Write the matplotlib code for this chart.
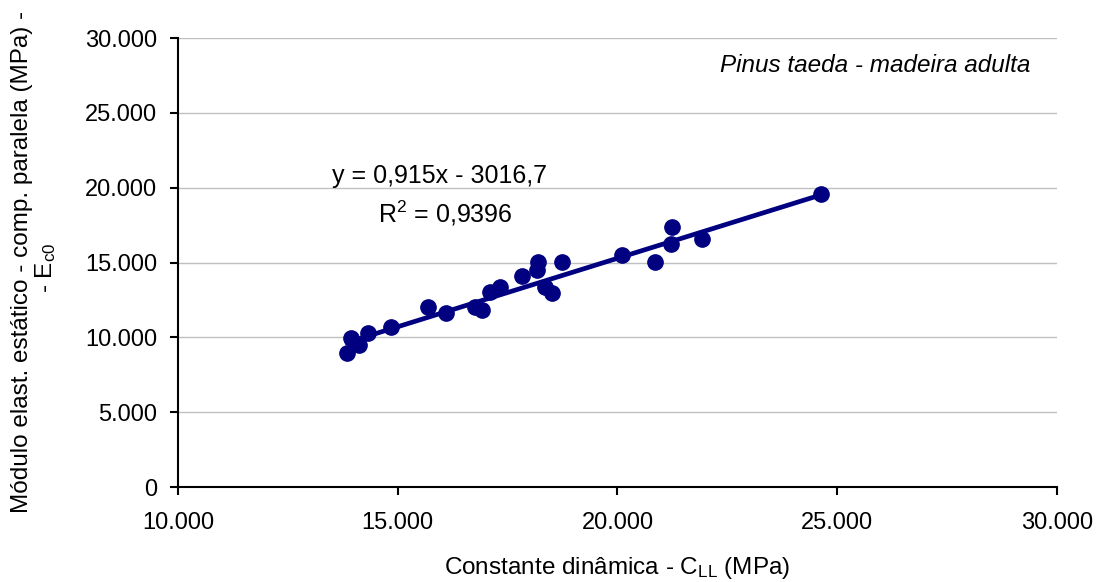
import matplotlib
matplotlib.use("Agg")
import matplotlib.pyplot as plt
from matplotlib.ticker import FuncFormatter
import numpy as np

plt.rcParams['font.family'] = ['Liberation Sans', 'DejaVu Sans']
plt.rcParams['mathtext.fontset'] = 'custom'
plt.rcParams['mathtext.rm'] = 'Liberation Sans'
plt.rcParams['mathtext.it'] = 'Liberation Sans:italic'

c_ll = [13930, 14125, 13850, 14330, 14846, 15695, 16091, 16758, 16910, 17099,
        17326, 17820, 18162, 18198, 18350, 18516, 18730, 20095, 20853, 21233,
        21217, 21916, 24623]
e_c0 = [9940, 9490, 8970, 10310, 10710, 12007, 11606, 12007, 11826, 13049,
        13343, 14118, 14499, 15053, 13396, 12982, 15013, 15501, 15053, 17352,
        16236, 16570, 19557]
slope = 0.915
intercept = -3016.7
eq_text = "y = 0,915x - 3016,7"
r2_text = "R$^2$ = 0,9396"
species = "Pinus taeda - madeira adulta"
x_ticks = [10000, 15000, 20000, 25000, 30000]
y_ticks = [0, 5000, 10000, 15000, 20000, 25000, 30000]

navy = '#000080'
fig = plt.figure(figsize=(11, 5.82), dpi=100)
ax = fig.add_axes([0.1618, 0.1632, 0.7991, 0.7715])

ax.set_xlim(10000, 30000)
ax.set_ylim(0, 30000)
ax.set_xticks(x_ticks)
ax.set_yticks(y_ticks)
fmt = FuncFormatter(lambda v, p: f"{int(v):,}".replace(",", "."))
ax.xaxis.set_major_formatter(fmt)
ax.yaxis.set_major_formatter(fmt)
ax.yaxis.grid(True, color='#c0c0c0', linewidth=1)
ax.set_axisbelow(True)
for s in ['top', 'right']:
    ax.spines[s].set_visible(False)
for s in ['left', 'bottom']:
    ax.spines[s].set_color('black')
    ax.spines[s].set_linewidth(1.5)
ax.tick_params(axis='both', direction='out', length=6, width=1.5, labelsize=17, colors='black')
ax.tick_params(axis='x', pad=12)
ax.tick_params(axis='y', pad=9)

xs = np.array([min(c_ll), max(c_ll)])
ax.plot(xs, slope * xs + intercept, color=navy, linewidth=3.4, zorder=2)
ax.plot(c_ll, e_c0, 'o', color=navy, markersize=11, zorder=3)

fig.text(440 / 1100, 1 - 176 / 582, eq_text, fontsize=18, ha='center', va='center')
fig.text(445 / 1100, 1 - 213 / 582, r2_text, fontsize=18, ha='center', va='center')
fig.text(1030 / 1100, 1 - 65 / 582, species, fontsize=17.5, ha='right', va='center', style='italic')

ax.set_xlabel("Constante dinâmica - C$_{\\mathrm{LL}}$ (MPa)", fontsize=17.5, labelpad=15)
fig.text(22 / 1100, 1 - 262 / 582, "Módulo elast. estático - comp. paralela (MPa) -",
         rotation=90, fontsize=17.5, ha='center', va='center')
fig.text(46 / 1100, 1 - 268 / 582, "- E$_{\\mathrm{c0}}$",
         rotation=90, fontsize=17.5, ha='center', va='center')

fig.savefig("out.png", dpi=100)
